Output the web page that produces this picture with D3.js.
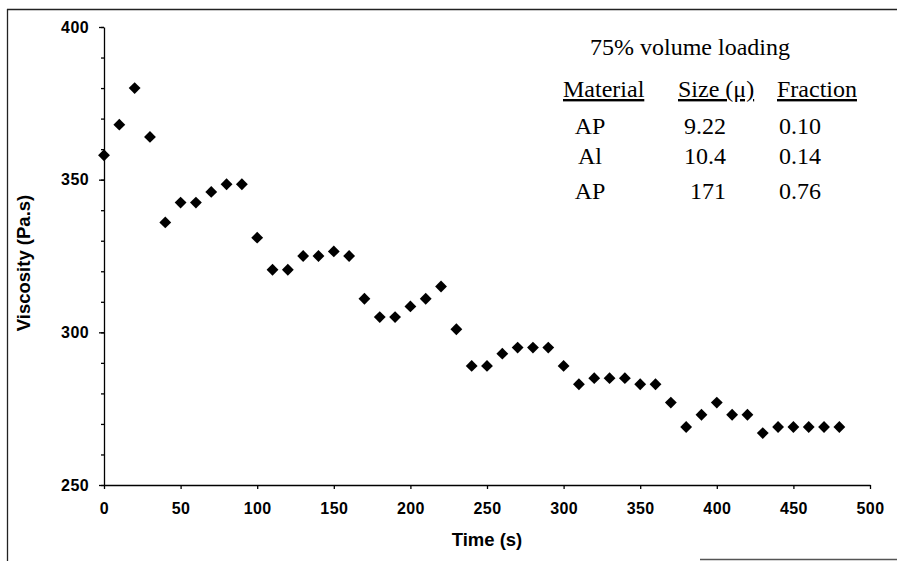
<!DOCTYPE html>
<html>
<head>
<meta charset="utf-8">
<script src="https://cdn.jsdelivr.net/npm/d3@7"></script>
<style>
  body { margin: 0; background: #fff; }
  svg { display: block; }
  .axis text { font-family: "Liberation Sans", Arial, sans-serif; font-size: 16px; font-weight: bold; letter-spacing: 0.4px; fill: #000; }
  .axis path, .axis line { stroke: #000; stroke-width: 1.3; }
  .title { font-family: "Liberation Sans", Arial, sans-serif; font-size: 18.5px; font-weight: bold; fill: #000; }
  .legend text { font-family: "Liberation Serif", "Times New Roman", serif; font-size: 24px; fill: #000; }
</style>
</head>
<body>
<div class="chart"></div>
<script>
// data
const time = [0, 10, 20, 30, 40, 50, 60, 70, 80, 90, 100, 110, 120, 130, 140, 150, 160, 170, 180, 190,
  200, 210, 220, 230, 240, 250, 260, 270, 280, 290, 300, 310, 320, 330, 340, 350, 360, 370, 380, 390,
  400, 410, 420, 430, 440, 450, 460, 470, 480];
const viscosity = [358, 368, 380, 364, 336, 342.5, 342.5, 346, 348.5, 348.5, 331, 320.5, 320.5, 325, 325, 326.5, 325, 311, 305, 305,
  308.5, 311, 315, 301, 289, 289, 293, 295, 295, 295, 289, 283, 285, 285, 285, 283, 283, 277, 269, 273,
  277, 273, 273, 267, 269, 269, 269, 269, 269];

const xTicks = [0, 50, 100, 150, 200, 250, 300, 350, 400, 450, 500];
const yTicks = [250, 300, 350, 400];
const yMinorTicks = d3.range(250, 401, 10);

const legendTitle = '75% volume loading';
const legendHeaders = ['Material', 'Size (\u03bc)', 'Fraction'];
const materials = ['AP', 'Al', 'AP'];
const sizes = ['9.22', '10.4', '171'];
const fractions = ['0.10', '0.14', '0.76'];

const W = 897, H = 561;
const margin = { left: 104, right: 27, top: 27, bottom: 76 };

const svg = d3.select('.chart')
  .append('svg')
    .attr('width', W)
    .attr('height', H);

// scanned page frame
const frame = svg.append('g').attr('stroke', '#222').attr('stroke-width', 1.3).attr('fill', 'none');
frame.append('line').attr('x1', 7.5).attr('x2', 7.5).attr('y1', 9).attr('y2', H);
frame.append('line').attr('x1', 7).attr('x2', W).attr('y1', 9.5).attr('y2', 9.5);
frame.append('line').attr('x1', 700).attr('x2', W).attr('y1', 559.5).attr('y2', 559.5).attr('stroke', '#555');

const x = d3.scaleLinear()
  .domain([0, 500])
  .range([margin.left, W - margin.right]);

const y = d3.scaleLinear()
  .domain([250, 400])
  .range([H - margin.bottom, margin.top]);

// axes
svg.append('g')
  .classed('axis', true)
  .attr('transform', `translate(0, ${y(250)})`)
  .call(d3.axisBottom(x).tickValues(xTicks).tickSize(4).tickPadding(14).tickSizeOuter(0).tickFormat(d3.format('d')));

svg.append('g')
  .classed('axis', true)
  .attr('transform', `translate(${x(0)}, 0)`)
  .call(d3.axisLeft(y).tickValues(yMinorTicks).tickSize(3).tickSizeOuter(0).tickFormat(''));

svg.append('g')
  .classed('axis', true)
  .attr('transform', `translate(${x(0)}, 0)`)
  .call(d3.axisLeft(y).tickValues(yTicks).tickSize(5).tickPadding(10).tickSizeOuter(0).tickFormat(d3.format('d')))
  .call(g => g.select('.domain').remove());

// axis titles
svg.append('text')
  .classed('title', true)
  .attr('x', (x(0) + x(500)) / 2)
  .attr('y', 546)
  .attr('text-anchor', 'middle')
  .text('Time (s)');

svg.append('text')
  .classed('title', true)
  .attr('transform', `translate(30, ${(y(250) + y(400)) / 2 + 7}) rotate(-90)`)
  .attr('text-anchor', 'middle')
  .text('Viscosity (Pa.s)');

// points
const diamond = d3.symbol(d3.symbolSquare, 70);
svg.append('g')
  .selectAll('path')
  .data(time.map((t, i) => ({ t, v: viscosity[i] })))
  .enter()
  .append('path')
    .attr('d', diamond)
    .attr('transform', d => `translate(${x(d.t)}, ${y(d.v)}) rotate(45)`)
    .attr('fill', '#000');

// legend table
const legend = svg.append('g').classed('legend', true);

legend.append('text')
  .attr('x', 590)
  .attr('y', 55)
  .text(legendTitle);

legend.selectAll('.head')
  .data(legendHeaders)
  .enter()
  .append('text')
    .classed('head', true)
    .attr('x', (d, i) => [563, 678, 777][i])
    .attr('y', 97)
    .style('text-decoration', 'underline')
    .text(d => d);

const rowY = [134, 164, 199];

legend.selectAll('.mat')
  .data(materials)
  .enter()
  .append('text')
    .classed('mat', true)
    .attr('x', 590)
    .attr('y', (d, i) => rowY[i])
    .attr('text-anchor', 'middle')
    .text(d => d);

legend.selectAll('.size')
  .data(sizes)
  .enter()
  .append('text')
    .classed('size', true)
    .attr('x', (d, i) => i === 2 ? 708 : 705)
    .attr('y', (d, i) => rowY[i])
    .attr('text-anchor', 'middle')
    .text(d => d);

legend.selectAll('.frac')
  .data(fractions)
  .enter()
  .append('text')
    .classed('frac', true)
    .attr('x', 779)
    .attr('y', (d, i) => rowY[i])
    .text(d => d);
</script>
</body>
</html>
